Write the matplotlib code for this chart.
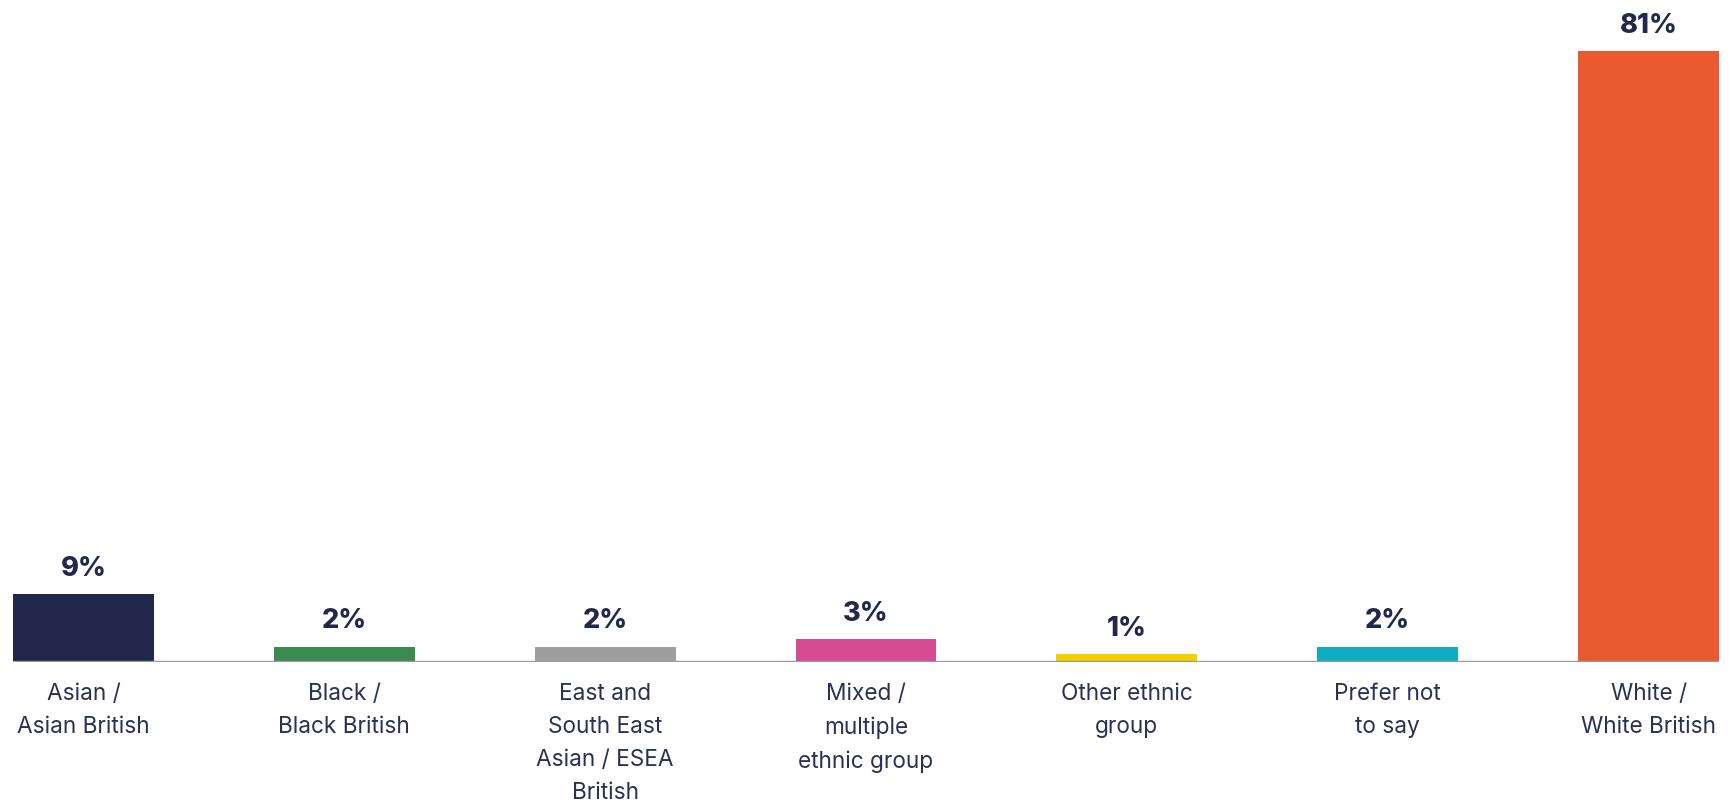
import matplotlib
matplotlib.use("Agg")
import matplotlib.pyplot as plt

categories = [
    "Asian /\nAsian British",
    "Black /\nBlack British",
    "East and\nSouth East\nAsian / ESEA\nBritish",
    "Mixed /\nmultiple\nethnic group",
    "Other ethnic\ngroup",
    "Prefer not\nto say",
    "White /\nWhite British",
]
values = [9, 2, 2, 3, 1, 2, 81]
colors = ["#21284B", "#3B8A4F", "#9E9E9E", "#D64B94", "#F4CF00", "#0DAEC3", "#EA5A2E"]

NAVY = "#21284B"
plt.rcParams["font.family"] = ["Inter", "DejaVu Sans"]

fig = plt.figure(figsize=(17.29, 8.05), dpi=100)
W, H = 1729, 805
ax = fig.add_axes([13 / W, 1 - 662 / H, (1719 - 13) / W, (662 - 51) / H])

x = range(len(categories))
bars = ax.bar(x, values, width=0.54, color=colors, zorder=2)

ax.axhline(0, color="#999999", linewidth=2.4, zorder=3)

for rect, v in zip(bars, values):
    ax.annotate(f"{v}%", (rect.get_x() + rect.get_width() / 2, rect.get_height()),
                xytext=(0, 9), textcoords="offset points",
                ha="center", va="bottom", fontsize=19.5, fontweight="heavy",
                color=NAVY, clip_on=False)

ax.set_xlim(-0.27, len(categories) - 1 + 0.27)
ax.set_ylim(0, 81)
ax.set_xticks(list(x))
ax.set_xticklabels(categories, fontsize=16.3, color="#2A3154", linespacing=1.66)
ax.tick_params(axis="x", length=0, pad=15)
ax.set_yticks([])
for s in ax.spines.values():
    s.set_visible(False)

fig.savefig("out.png", dpi=100, facecolor="white")
